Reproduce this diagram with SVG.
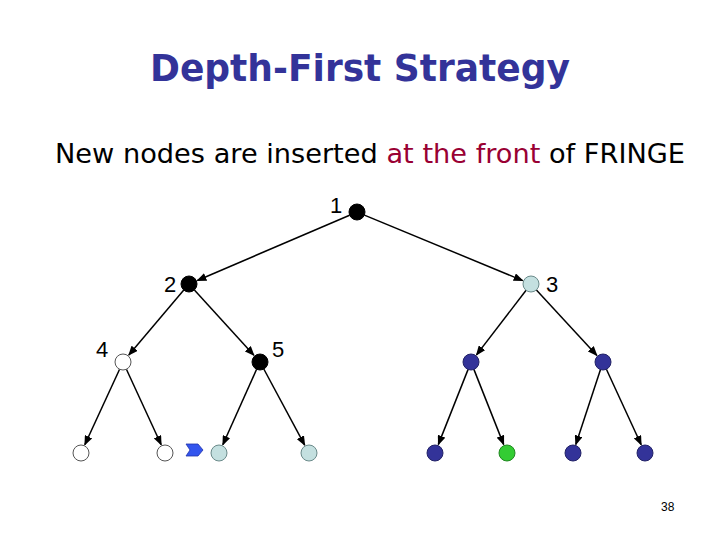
<svg xmlns="http://www.w3.org/2000/svg" width="720" height="540" viewBox="0 0 720 540">
<style>
.title{font-family:"Comic Sans MS","DejaVu Sans",sans-serif;font-weight:bold;font-size:38px;fill:#333399}
.sub{font-family:"Comic Sans MS","DejaVu Sans",sans-serif;font-size:27px;fill:#000}
.red{fill:#990033}
.lbl{font-family:"Liberation Sans",Arial,sans-serif;font-size:22px;fill:#000}
.pg{font-family:"Liberation Sans",Arial,sans-serif;font-size:12px;fill:#000}
.e{stroke:#000;stroke-width:1.5;fill:none;marker-end:url(#ah)}
.black{fill:#000;stroke:#000;stroke-width:1}
.white{fill:#fff;stroke:#555;stroke-width:1}
.cyan{fill:#c4e0e0;stroke:#6a8a8a;stroke-width:1}
.blue{fill:#333399;stroke:#222266;stroke-width:1}
.green{fill:#33cc33;stroke:#228822;stroke-width:1}
</style>
<defs>
<marker id="ah" markerUnits="userSpaceOnUse" markerWidth="10" markerHeight="8" refX="9" refY="4" orient="auto">
<path d="M0,0 L10,4 L0,8 Z" fill="#000"/>
</marker>
</defs>
<rect width="720" height="540" fill="#fff"/>
<text class="title" x="360" y="81" text-anchor="middle" textLength="420" lengthAdjust="spacingAndGlyphs">Depth-First Strategy</text>
<text class="sub" x="55" y="163" textLength="630" lengthAdjust="spacingAndGlyphs">New nodes are inserted <tspan class="red">at the front</tspan> of FRINGE</text>
<g id="connectors">
<line class="e" x1="349.6" y1="215.2" x2="197.3" y2="280.5"/>
<line class="e" x1="364.4" y1="215.1" x2="522.7" y2="280.6"/>
<line class="e" x1="183.8" y1="290.1" x2="128.8" y2="355.1"/>
<line class="e" x1="194.4" y1="289.9" x2="253.9" y2="355.3"/>
<line class="e" x1="526.1" y1="290.3" x2="476.5" y2="354.9"/>
<line class="e" x1="536.4" y1="289.9" x2="596.9" y2="355.4"/>
<line class="e" x1="119.6" y1="369.3" x2="84.8" y2="444.8"/>
<line class="e" x1="126.4" y1="369.3" x2="161.2" y2="444.8"/>
<line class="e" x1="256.6" y1="369.3" x2="222.8" y2="444.8"/>
<line class="e" x1="263.8" y1="369" x2="304.7" y2="445.1"/>
<line class="e" x1="468.1" y1="369.4" x2="438.3" y2="444.6"/>
<line class="e" x1="473.9" y1="369.4" x2="503.7" y2="444.6"/>
<line class="e" x1="600.5" y1="369.6" x2="575.8" y2="444.5"/>
<line class="e" x1="606.4" y1="369.3" x2="641.2" y2="444.8"/>
</g>
<g id="n1"><circle class="black" cx="357" cy="212" r="8"/><text class="lbl" x="330" y="213">1</text></g>
<g id="n2"><circle class="black" cx="189" cy="284" r="8"/><text class="lbl" x="164" y="292">2</text></g>
<g id="n3"><circle class="cyan" cx="531" cy="284" r="8"/><text class="lbl" x="546" y="292">3</text></g>
<g id="n4"><circle class="white" cx="123" cy="362" r="8"/><text class="lbl" x="96" y="357">4</text></g>
<g id="n5"><circle class="black" cx="260" cy="362" r="8"/><text class="lbl" x="272" y="357">5</text></g>
<g id="n6"><circle class="blue" cx="471" cy="362" r="8"/></g>
<g id="n7"><circle class="blue" cx="603" cy="362" r="8"/></g>
<g id="n8"><circle class="white" cx="81" cy="453" r="8"/></g>
<g id="n9"><circle class="white" cx="165" cy="453" r="8"/></g>
<g id="n10"><circle class="cyan" cx="219" cy="453" r="8"/></g>
<g id="n11"><circle class="cyan" cx="309" cy="453" r="8"/></g>
<g id="n12"><circle class="blue" cx="435" cy="453" r="8"/></g>
<g id="n13"><circle class="green" cx="507" cy="453" r="8"/></g>
<g id="n14"><circle class="blue" cx="573" cy="453" r="8"/></g>
<g id="n15"><circle class="blue" cx="645" cy="453" r="8"/></g>
<g id="pointer"><path d="M186,444 L198,444 L203,450 L198,456 L186,456 L190,450 Z" fill="#3355ee" stroke="#2233aa" stroke-width="0.8"/></g>
<text class="pg" x="661" y="511">38</text>
</svg>
